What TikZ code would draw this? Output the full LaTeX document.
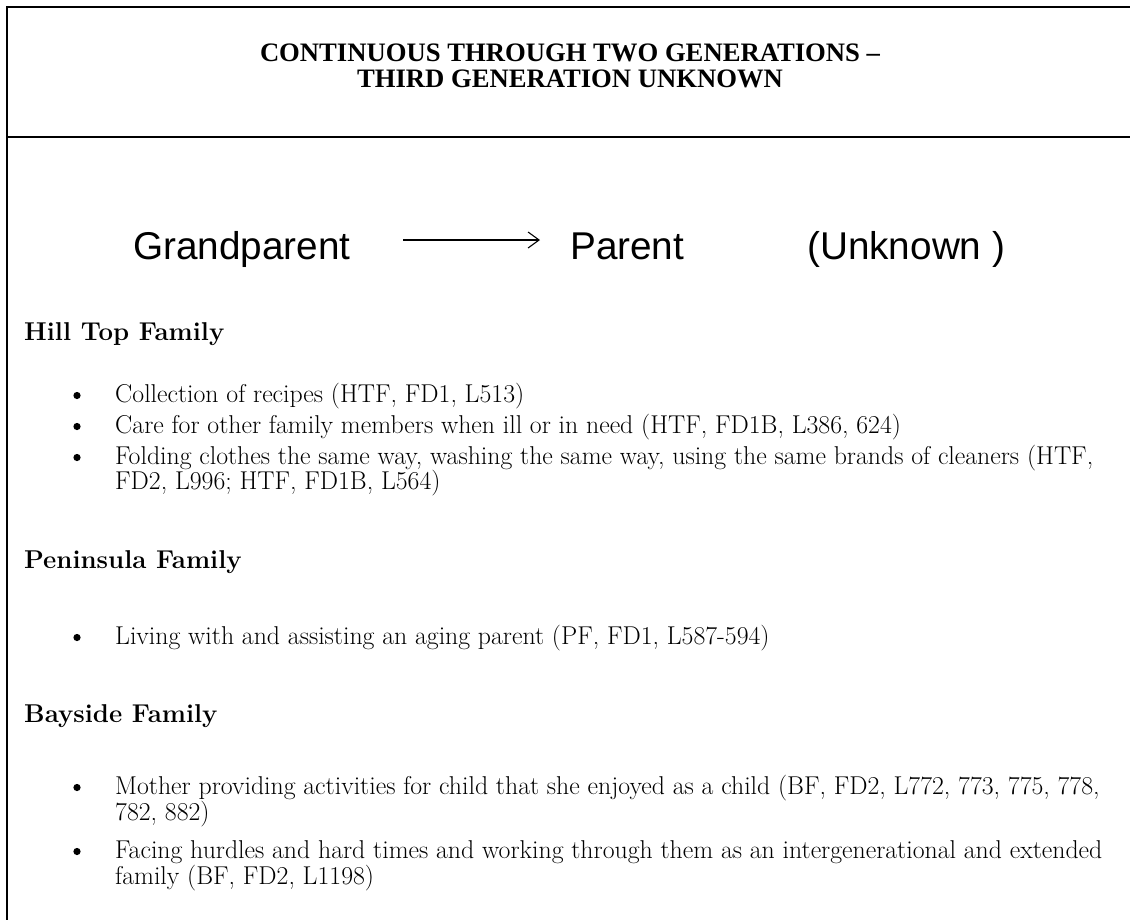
\documentclass[tikz,border=0pt]{standalone}
\usepackage{fontspec}
\usetikzlibrary{arrows.meta}

\newfontfamily\headfont{Liberation Serif}
\newfontfamily\labelfont{Liberation Sans}

% font sizes chosen so that a reference line gets a given width (1 unit = 1pt);
% measured at 20pt so that the optical size used is the one drawn
\newlength\fitlen
\newcommand\fitsize[3]{%
  \settowidth\fitlen{\fontsize{20}{24}\selectfont #2}%
  \pgfmathsetmacro#1{#3/\fitlen*20}}
\fitsize\headsz{\headfont\bfseries CONTINUOUS THROUGH TWO GENERATIONS –}{620}
\fitsize\bodysz{\rmfamily Folding clothes the same way, washing the same way, using the same brands of cleaners (HTF,}{978}
\fitsize\labelsz{\labelfont (Unknown )}{198}

\tikzset{
  rule/.style={line width=2.2pt, line cap=rect},
  head/.style={font=\headfont\bfseries\fontsize{\headsz}{\headsz}\selectfont, inner sep=0pt, anchor=base},
  body/.style={font=\fontsize{\bodysz}{\bodysz}\selectfont, inner sep=0pt, anchor=base west},
  grouphead/.style={font=\bfseries\fontsize{\bodysz}{\bodysz}\selectfont, inner sep=0pt, anchor=base west},
  gen/.style={font=\labelfont\fontsize{\labelsz}{\labelsz}\selectfont, inner sep=0pt, anchor=base west},
  flow/.style={line width=1.1pt, -{Straight Barb[length=11pt,width=16pt,line width=1.1pt]}},
  dot/.style={fill=black}
}

\newcommand\itemdot[1]{\fill[dot] (77,#1-6.5) circle (3.6);}

\begin{document}
\begin{tikzpicture}[x=1pt,y={(0pt,-1pt)}]
\useasboundingbox (0,0) rectangle (1130,919);

% table rules
\draw[rule] (7,919) -- (7,7) -- (1130,7);
\draw[rule] (7,137) -- (1130,137);

% title cell
\node[head] (title1) at (570,61) {CONTINUOUS THROUGH TWO GENERATIONS –};
\node[head] (title2) at (570,87) {THIRD GENERATION UNKNOWN};

% generations
\node[gen] (gp) at (133,259) {Grandparent};
\node[gen] (par) at (570,259) {Parent};
\node[gen] (unk) at (807,259) {(Unknown )};
\coordinate (arrS) at (403,240);
\coordinate (arrE) at (540,240);
\draw[flow] (arrS) -- (arrE);

% Hill Top Family
\node[grouphead] (hill) at (24,340) {Hill Top Family};
\itemdot{402}
\node[body] (h1) at (115,402) {Collection of recipes (HTF, FD1, L513)};
\itemdot{433}
\node[body] (h2) at (115,433) {Care for other family members when ill or in need (HTF, FD1B, L386, 624)};
\itemdot{464}
\node[body] (h3a) at (115,464) {Folding clothes the same way, washing the same way, using the same brands of cleaners (HTF,};
\node[body] (h3b) at (115,489) {FD2, L996; HTF, FD1B, L564)};

% Peninsula Family
\node[grouphead] (pen) at (24,568) {Peninsula Family};
\itemdot{644}
\node[body] (p1) at (115,644) {Living with and assisting an aging parent (PF, FD1, L587-594)};

% Bayside Family
\node[grouphead] (bay) at (24,722) {Bayside Family};
\itemdot{794}
\node[body] (b1a) at (115,794) {Mother providing activities for child that she enjoyed as a child (BF, FD2, L772, 773, 775, 778,};
\node[body] (b1b) at (115,820) {782, 882)};
\itemdot{858}
\node[body] (b2a) at (115,858) {Facing hurdles and hard times and working through them as an intergenerational and extended};
\node[body] (b2b) at (115,884) {family (BF, FD2, L1198)};
\end{tikzpicture}
\end{document}
